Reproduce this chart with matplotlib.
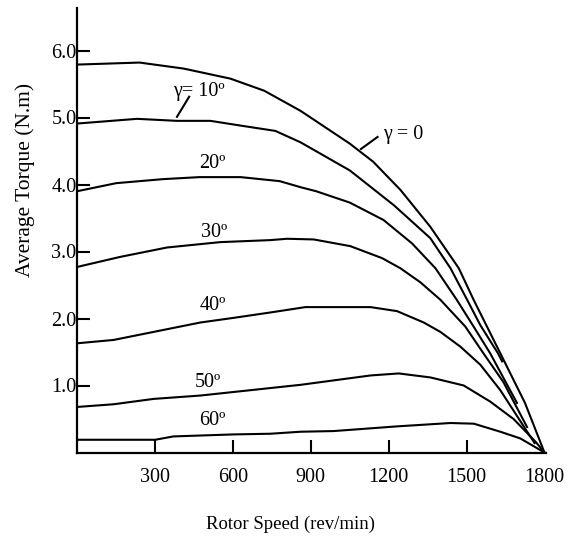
import matplotlib
matplotlib.use("Agg")
import matplotlib.pyplot as plt

plt.rcParams['font.family'] = ['Liberation Serif', 'DejaVu Serif']

# ---- data ----
x_g0 = [0, 240, 410, 590, 720, 860, 1050, 1140, 1245, 1360, 1470, 1527, 1630, 1725, 1800]
y_g0 = [5.79, 5.82, 5.73, 5.58, 5.40, 5.10, 4.61, 4.34, 3.92, 3.37, 2.75, 2.28, 1.48, 0.74, 0.0]

x_g10 = [0, 230, 384, 513, 628, 763, 860, 1050, 1220, 1360, 1438, 1502, 1553, 1621, 1637]
y_g10 = [4.91, 4.98, 4.95, 4.95, 4.88, 4.80, 4.63, 4.21, 3.69, 3.20, 2.75, 2.28, 1.90, 1.48, 1.36]

x_g20 = [0, 150, 330, 470, 630, 780, 860, 920, 1050, 1180, 1290, 1380, 1462, 1527, 1591, 1694]
y_g20 = [3.90, 4.02, 4.08, 4.11, 4.11, 4.05, 3.96, 3.90, 3.73, 3.47, 3.12, 2.75, 2.28, 1.88, 1.48, 0.74]

x_g30 = [0, 166, 346, 551, 744, 808, 911, 1052, 1175, 1245, 1322, 1399, 1495, 1565, 1642, 1733]
y_g30 = [2.77, 2.92, 3.06, 3.14, 3.17, 3.19, 3.18, 3.08, 2.90, 2.75, 2.54, 2.28, 1.88, 1.48, 1.05, 0.38]

x_g40 = [0, 140, 307, 474, 603, 744, 879, 1130, 1232, 1335, 1399, 1476, 1553, 1630, 1762]
y_g40 = [1.63, 1.68, 1.81, 1.94, 2.01, 2.09, 2.17, 2.17, 2.11, 1.94, 1.80, 1.58, 1.31, 0.93, 0.14]

x_g50 = [0, 140, 294, 474, 667, 860, 1130, 1239, 1361, 1489, 1591, 1681, 1766, 1800]
y_g50 = [0.68, 0.72, 0.80, 0.85, 0.93, 1.01, 1.15, 1.18, 1.12, 1.00, 0.76, 0.50, 0.16, 0.0]

x_g60 = [0, 300, 370, 603, 744, 860, 988, 1232, 1438, 1528, 1630, 1707, 1800]
y_g60 = [0.19, 0.19, 0.24, 0.27, 0.28, 0.31, 0.32, 0.39, 0.44, 0.43, 0.31, 0.21, 0.0]

series = [(x_g0, y_g0), (x_g10, y_g10), (x_g20, y_g20), (x_g30, y_g30),
          (x_g40, y_g40), (x_g50, y_g50), (x_g60, y_g60)]

x_ticks = [300, 600, 900, 1200, 1500, 1800]
x_tick_labels = ["300", "600", "900", "1200", "1500", "1800"]
y_ticks = [1, 2, 3, 4, 5, 6]
y_tick_labels = ["1.0", "2.0", "3.0", "4.0", "5.0", "6.0"]

# curve labels: (text, x, y)
curve_labels = [
    ("γ = 0", 1257, 4.75),
    ("γ= 10º", 470, 5.39),
    ("20º", 520, 4.31),
    ("30º", 528, 3.28),
    ("40º", 524, 2.19),
    ("50º", 505, 1.05),
    ("60º", 520, 0.48),
]
# leader lines for the two gamma labels
leader_g0_x = [1157, 1093]
leader_g0_y = [4.71, 4.53]
leader_g10_x = [431, 384]
leader_g10_y = [5.31, 5.01]

# ---- figure ----
W, H = 568, 539
fig = plt.figure(figsize=(W / 100, H / 100), dpi=100)
left_px, right_px, bottom_px, top_px = 77.3, 546.0, 452.5, 8.0
ax = fig.add_axes([left_px / W, 1 - bottom_px / H,
                   (right_px - left_px) / W, (bottom_px - top_px) / H])

for xs, ys in series:
    ax.plot(xs, ys, color='black', lw=1.5, solid_joinstyle='miter')

ax.plot(leader_g0_x, leader_g0_y, color='black', lw=1.5)
ax.plot(leader_g10_x, leader_g10_y, color='black', lw=1.5)

for txt, tx, ty in curve_labels:
    ax.text(tx, ty, txt, ha='center', va='center', fontsize=14.5, color='black')

ax.set_xlim(0, 1806)
ax.set_ylim(0, (bottom_px - top_px) / 67.0)

for s in ['top', 'right']:
    ax.spines[s].set_visible(False)
for s in ['left', 'bottom']:
    ax.spines[s].set_linewidth(1.6)

ax.set_xticks(x_ticks)
ax.set_xticklabels(x_tick_labels)
ax.set_yticks(y_ticks)
ax.set_yticklabels(y_tick_labels)
ax.tick_params(axis='both', direction='in', length=9.5, width=1.5, labelsize=14.5)
ax.tick_params(axis='x', pad=11.5)
ax.tick_params(axis='y', pad=0.5)
ax.xaxis.get_major_ticks()[-1].tick1line.set_visible(False)

fig.text(291 / W, 1 - 524 / H, "Rotor Speed (rev/min)", ha='center', va='center', fontsize=13.5)
fig.text(25 / W, 1 - 180 / H, "Average Torque (N.m)", ha='center', va='center',
         rotation=90, fontsize=15.5)

fig.savefig("out.png", dpi=100)
